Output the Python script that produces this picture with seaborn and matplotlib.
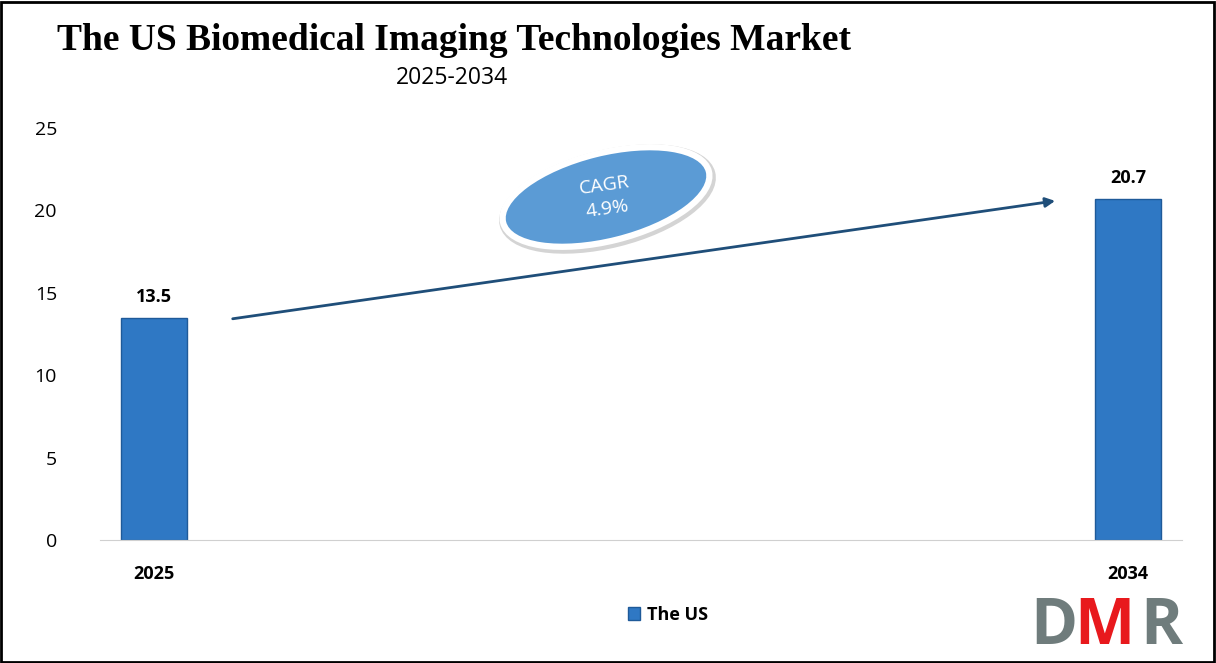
import pandas as pd
import numpy as np
import seaborn as sns
import matplotlib.pyplot as plt
from matplotlib.patches import Ellipse, Rectangle

# chart data
years = ['2025', '2034']
values = [13.5, 20.7]
series_name = 'The US'
cagr_text = 'CAGR\n4.9%'

df = pd.DataFrame({'year': years, 'value': values})

sns.set_style('white')
plt.rcParams['font.family'] = ['Open Sans', 'DejaVu Sans']
plt.rcParams['text.color'] = 'black'
plt.rcParams['xtick.color'] = 'black'
plt.rcParams['ytick.color'] = 'black'

fig = plt.figure(figsize=(12.16, 6.63), dpi=100)
ax = fig.add_axes([100 / 1216, 1 - 540 / 663, 1082 / 1216, 412 / 663])

bar_color = '#2F78C4'
sns.barplot(ax=ax, data=df, x='year', y='value', color=bar_color, width=0.067,
            edgecolor='#1F5A99', linewidth=1.0, saturation=1)

ax.set_ylim(0, 25)
ax.set_xlim(-0.0554, 1.0554)
ax.set_yticks([0, 5, 10, 15, 20, 25])
ax.tick_params(axis='y', labelsize=14, length=0, pad=31)
ax.tick_params(axis='x', labelsize=13, length=0, pad=18)
for lbl in ax.get_xticklabels():
    lbl.set_fontweight('bold')
ax.set_xlabel('')
ax.set_ylabel('')
for side in ['top', 'right', 'left']:
    ax.spines[side].set_visible(False)
ax.spines['bottom'].set_color('#d0d0d0')

# value labels
for i, v in enumerate(values):
    ax.text(i, v + 0.7, f'{v}', ha='center', va='bottom', fontsize=13, fontweight='bold')

# growth arrow
ax.annotate('', xy=(0.928, 20.6), xytext=(0.078, 13.4),
            arrowprops=dict(arrowstyle='-|>', color='#1F4E79', lw=2, mutation_scale=14))

# CAGR bubble, drawn in inches so it keeps its shape
tr = fig.dpi_scale_trans
cx, cy = 6.06, (663 - 197) / 100
fig.add_artist(Ellipse((cx + 0.015, cy - 0.02), 2.15, 0.91, angle=14, facecolor='none',
                       edgecolor='#a0a0a0', linewidth=5, alpha=0.45, transform=tr, zorder=4))
fig.add_artist(Ellipse((cx, cy), 2.12, 0.88, angle=14, facecolor='#5B9BD5',
                       edgecolor='white', linewidth=4.5, transform=tr, zorder=5))
fig.text(cx / 12.16, cy / 6.63, cagr_text, ha='center', va='center', fontsize=14, color='white',
         rotation=8, zorder=6, linespacing=1.4)

# legend
handle = Rectangle((0, 0), 1, 1, facecolor=bar_color, edgecolor='#1F5A99')
leg = fig.legend([handle], [series_name], loc='center', bbox_to_anchor=(668 / 1216, 1 - 615 / 663),
                 frameon=False, fontsize=13, handlelength=0.7, handleheight=0.7, handletextpad=0.4)
for t in leg.get_texts():
    t.set_fontweight('bold')

# titles
fig.text(57 / 1216, 1 - 40 / 663, 'The US Biomedical Imaging Technologies Market',
         fontsize=27, fontweight='bold', family='Liberation Serif', va='center', ha='left')
fig.text(452 / 1216, 1 - 78 / 663, '2025-2034', fontsize=16.5, va='center', ha='center')

# logo
fig.text(1030 / 1216, 1 - 628 / 663, 'D', fontsize=46, fontweight='bold', color='#6F7C7C',
         va='center', ha='left')
fig.text(1074 / 1216, 1 - 628 / 663, 'M', fontsize=46, fontweight='bold', color='#E8191D',
         va='center', ha='left')
fig.text(1140 / 1216, 1 - 628 / 663, 'R', fontsize=46, fontweight='bold', color='#6F7C7C',
         va='center', ha='left')

# figure border
fig.add_artist(Rectangle((0.001, 0.002), 0.997, 0.995, transform=fig.transFigure,
                         fill=False, edgecolor='black', linewidth=2))

fig.savefig('out.png', dpi=100)
